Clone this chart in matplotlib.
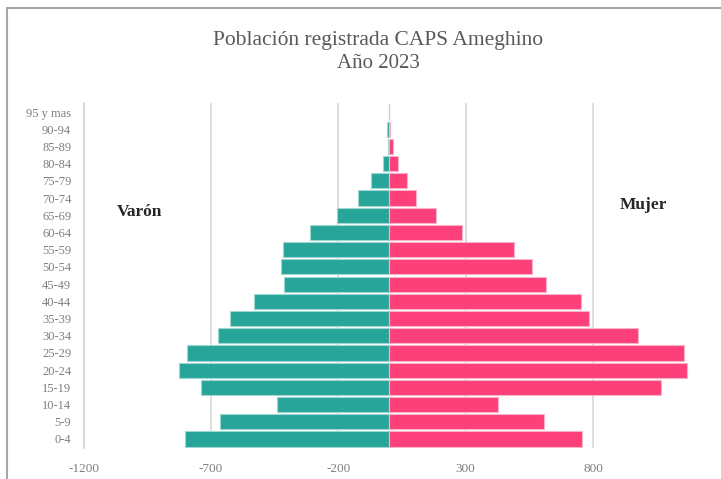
import matplotlib.pyplot as plt
from matplotlib.patches import Rectangle

age_groups = ["0-4", "5-9", "10-14", "15-19", "20-24", "25-29", "30-34", "35-39",
              "40-44", "45-49", "50-54", "55-59", "60-64", "65-69", "70-74",
              "75-79", "80-84", "85-89", "90-94", "95 y mas"]
varon = [-802, -665, -440, -739, -826, -795, -671, -625, -531, -413,
         -427, -417, -310, -205, -122, -72, -26, -6, -8, 0]
mujer = [758, 609, 428, 1066, 1170, 1157, 978, 784, 751, 614,
         559, 491, 284, 183, 104, 71, 35, 16, 2, 0]
xticks = [-1200, -700, -200, 300, 800]

teal = "#27a599"
pink = "#fd3f7a"

fig = plt.figure(figsize=(7.21, 4.79), dpi=100)
fig.patch.set_facecolor("white")
W, H = 721, 479
left_px, right_px = 83.7, 720.4
top_px, bot_px = 103.4, 447.6
ax = fig.add_axes([left_px / W, 1 - bot_px / H, (right_px - left_px) / W, (bot_px - top_px) / H])

y = list(range(len(age_groups)))
ax.barh(y, varon, height=0.88, color=teal, edgecolor="#9fd8d2", linewidth=0.8, zorder=3)
ax.barh(y, mujer, height=0.88, color=pink, edgecolor="#f9b3c9", linewidth=0.8, zorder=3)

ax.set_xlim(-1200, 1300)
ax.set_ylim(-0.5, len(age_groups) - 0.5)
ax.set_xticks(xticks)
ax.set_xticklabels([str(v) for v in xticks], fontfamily="Liberation Serif", fontsize=9.5, color="#7f7f7f")
ax.set_yticks(y)
ax.set_yticklabels(age_groups, fontfamily="Liberation Serif", fontsize=9, color="#7f7f7f")
ax.tick_params(axis="both", length=0)
ax.tick_params(axis="y", pad=9)
ax.tick_params(axis="x", pad=11)
for v in xticks[1:]:
    ax.axvline(v, color="#d9d9d9", linewidth=1.2, zorder=1)
for s in ["top", "right", "bottom"]:
    ax.spines[s].set_visible(False)
ax.spines["left"].set_color("#d0d0d0")
ax.spines["left"].set_linewidth(1.2)

fig.text(378 / W, 1 - 40 / H, "Población registrada CAPS Ameghino", ha="center", va="center",
         fontfamily="Liberation Serif", fontsize=15.5, color="#595959")
fig.text(378 / W, 1 - 63 / H, "Año 2023", ha="center", va="center",
         fontfamily="Liberation Serif", fontsize=15, color="#595959")
fig.text(139 / W, 1 - 212 / H, "Varón", ha="center", va="center",
         fontfamily="Liberation Serif", fontsize=12.5, fontweight="bold", color="#262626")
fig.text(643 / W, 1 - 205 / H, "Mujer", ha="center", va="center",
         fontfamily="Liberation Serif", fontsize=12.5, fontweight="bold", color="#262626")

border = Rectangle((7 / W, -0.1), 1.2, 1 - 8 / H + 0.1, transform=fig.transFigure,
                   fill=False, edgecolor="#a6a6a6", linewidth=1.5, clip_on=False)
fig.patches.append(border)

fig.savefig("out.png", dpi=100, facecolor="white")
